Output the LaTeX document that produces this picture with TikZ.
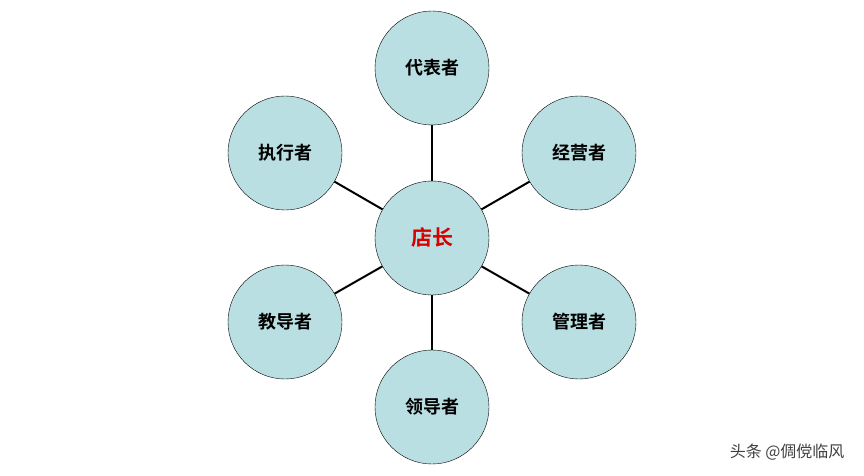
\documentclass[tikz,border=0pt]{standalone}
\usepackage{fontspec}
\newfontfamily\cjk{Noto Sans CJK SC}[BoldFont={Noto Sans CJK SC Bold}]
\definecolor{cfill}{HTML}{B9DFE3}
\begin{document}
\begin{tikzpicture}[x=1pt,y=-1pt,
  circ/.style={circle,draw=black,fill=cfill,minimum size=114pt,inner sep=0pt,font=\cjk\bfseries\fontsize{18}{18}\selectfont},
  link/.style={line width=2pt}]
\useasboundingbox (0,0) rectangle (864,476);
\fill[white] (0,0) rectangle (864,476);
\node[circ] (c) at (432,238) {\textcolor{red!85!black}{\fontsize{21}{21}\selectfont 店长}};
\node[circ] (t) at (432,68) {代表者};
\node[circ] (b) at (432,407) {领导者};
\node[circ] (ul) at (285,153) {执行者};
\node[circ] (ur) at (579,153) {经营者};
\node[circ] (ll) at (285,322) {教导者};
\node[circ] (lr) at (579,322) {管理者};
\foreach \n in {t,b,ul,ur,ll,lr} \draw[link] (c) -- (\n);
\node[font=\cjk\fontsize{16}{16}\selectfont,text=black!75,anchor=east] (w) at (848,452) {头条 @倜傥临风};
\end{tikzpicture}
\end{document}
